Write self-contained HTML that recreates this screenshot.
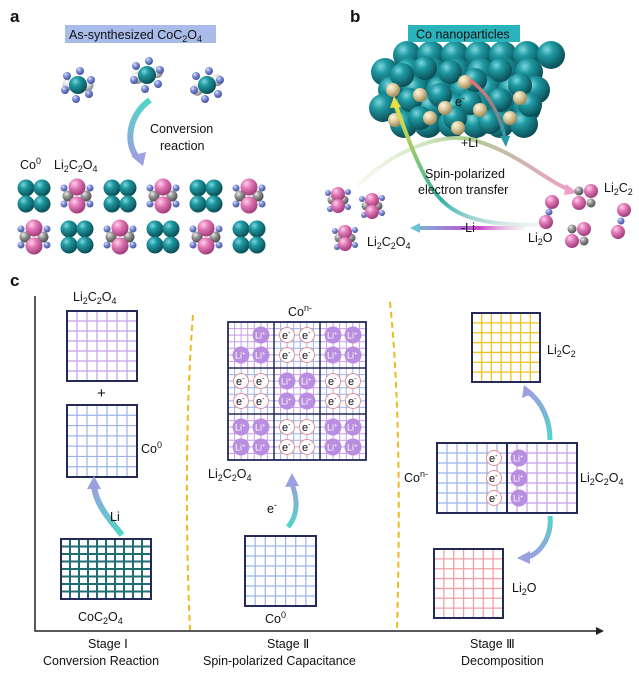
<!DOCTYPE html>
<html><head><meta charset="utf-8">
<style>
html,body{margin:0;padding:0;background:#fff;width:639px;height:679px;overflow:hidden}
svg{display:block;font-family:"Liberation Sans",Arial,sans-serif}
</style></head>
<body>
<svg id="s" width="639" height="679" viewBox="0 0 639 679" xmlns="http://www.w3.org/2000/svg">
<defs>
<radialGradient id="gT" cx="35%" cy="30%" r="70%"><stop offset="0" stop-color="#7fd6dc"/><stop offset="0.35" stop-color="#1f9aa3"/><stop offset="1" stop-color="#0b4f57"/></radialGradient>
<radialGradient id="gP" cx="35%" cy="30%" r="70%"><stop offset="0" stop-color="#ffd3ec"/><stop offset="0.4" stop-color="#e47cb9"/><stop offset="1" stop-color="#a23c7b"/></radialGradient>
<radialGradient id="gG" cx="35%" cy="30%" r="70%"><stop offset="0" stop-color="#eee"/><stop offset="0.4" stop-color="#9a9a9a"/><stop offset="1" stop-color="#505050"/></radialGradient>
<radialGradient id="gW" cx="35%" cy="30%" r="70%"><stop offset="0" stop-color="#fff"/><stop offset="0.5" stop-color="#d8d8d8"/><stop offset="1" stop-color="#8a8a8a"/></radialGradient>
<radialGradient id="gB" cx="35%" cy="30%" r="70%"><stop offset="0" stop-color="#e0e6ff"/><stop offset="0.4" stop-color="#8193dc"/><stop offset="1" stop-color="#45529a"/></radialGradient>
<radialGradient id="gY" cx="35%" cy="30%" r="70%"><stop offset="0" stop-color="#fff6dc"/><stop offset="0.5" stop-color="#d9c79a"/><stop offset="1" stop-color="#9c8a5c"/></radialGradient>
<linearGradient id="aCT" x1="0" y1="0" x2="0" y2="1"><stop offset="0" stop-color="#9aa0e0"/><stop offset="1" stop-color="#50d6c8"/></linearGradient>
<linearGradient id="aTC" x1="0" y1="0" x2="0" y2="1"><stop offset="0" stop-color="#50d6c8"/><stop offset="1" stop-color="#9aa0e0"/></linearGradient>
<linearGradient id="aPL" x1="0" y1="0" x2="1" y2="0"><stop offset="0" stop-color="#e8f2dc" stop-opacity="0.4"/><stop offset="0.5" stop-color="#a9cf8f"/><stop offset="1" stop-color="#f0a0c8"/></linearGradient>
<linearGradient id="aYL" x1="1" y1="1" x2="0" y2="0"><stop offset="0" stop-color="#dddddd" stop-opacity="0.3"/><stop offset="0.45" stop-color="#2fb0a8"/><stop offset="1" stop-color="#e8e040"/></linearGradient>
<linearGradient id="aML" gradientUnits="userSpaceOnUse" x1="525" y1="0" x2="410" y2="0"><stop offset="0" stop-color="#ddd" stop-opacity="0.3"/><stop offset="0.4" stop-color="#cc44cc"/><stop offset="1" stop-color="#6ec2d8"/></linearGradient>
<linearGradient id="aRT" x1="0" y1="0" x2="0" y2="1"><stop offset="0" stop-color="#f07070"/><stop offset="1" stop-color="#2a9aa8"/></linearGradient>
</defs>
<g id="g"></g>
<g font-size="12.5" fill="#111">
<text x="10" y="22" font-size="17" font-weight="bold">a</text>
<rect x="65" y="25" width="151" height="18" fill="#a9bbe8"/>
<text x="69" y="39" font-size="12.5">As-synthesized CoC<tspan font-size="9" dy="3">2</tspan><tspan dy="-3">O</tspan><tspan font-size="9" dy="3">4</tspan></text>
<text x="150" y="133">Conversion</text>
<text x="160" y="150">reaction</text>
<text x="20" y="169">Co<tspan font-size="9" dy="-5">0</tspan></text>
<text x="54" y="169">Li<tspan font-size="9" dy="3">2</tspan><tspan dy="-3">C</tspan><tspan font-size="9" dy="3">2</tspan><tspan dy="-3">O</tspan><tspan font-size="9" dy="3">4</tspan></text>

<text x="350" y="22" font-size="17" font-weight="bold">b</text>
<rect x="408" y="25" width="112" height="17" fill="#2bb3bc"/>
<text x="416" y="38.5">Co nanoparticles</text>
<text x="425" y="178">Spin-polarized</text>
<text x="418" y="194">electron transfer</text>
<text x="604" y="192">Li<tspan font-size="9" dy="3">2</tspan><tspan dy="-3">C</tspan><tspan font-size="9" dy="3">2</tspan></text>
<text x="528" y="242">Li<tspan font-size="9" dy="3">2</tspan><tspan dy="-3">O</tspan></text>
<text x="367" y="246">Li<tspan font-size="9" dy="3">2</tspan><tspan dy="-3">C</tspan><tspan font-size="9" dy="3">2</tspan><tspan dy="-3">O</tspan><tspan font-size="9" dy="3">4</tspan></text>

<text x="10" y="286" font-size="17" font-weight="bold">c</text>
<text x="73" y="301">Li<tspan font-size="9" dy="3">2</tspan><tspan dy="-3">C</tspan><tspan font-size="9" dy="3">2</tspan><tspan dy="-3">O</tspan><tspan font-size="9" dy="3">4</tspan></text>
<text x="97" y="398" font-size="15">+</text>
<text x="141" y="453">Co<tspan font-size="9" dy="-5">0</tspan></text>
<text x="110" y="521">Li</text>
<text x="78" y="621">CoC<tspan font-size="9" dy="3">2</tspan><tspan dy="-3">O</tspan><tspan font-size="9" dy="3">4</tspan></text>
<text x="88" y="648">Stage Ⅰ</text>
<text x="43" y="665">Conversion Reaction</text>

<text x="288" y="316">Co<tspan font-size="9" dy="-5">n-</tspan></text>
<text x="208" y="478">Li<tspan font-size="9" dy="3">2</tspan><tspan dy="-3">C</tspan><tspan font-size="9" dy="3">2</tspan><tspan dy="-3">O</tspan><tspan font-size="9" dy="3">4</tspan></text>
<text x="267" y="513">e<tspan font-size="9" dy="-5">-</tspan></text>
<text x="265" y="623">Co<tspan font-size="9" dy="-5">0</tspan></text>
<text x="267" y="648">Stage Ⅱ</text>
<text x="203" y="665">Spin-polarized Capacitance</text>

<text x="547" y="354">Li<tspan font-size="9" dy="3">2</tspan><tspan dy="-3">C</tspan><tspan font-size="9" dy="3">2</tspan></text>
<text x="404" y="482">Co<tspan font-size="9" dy="-5">n-</tspan></text>
<text x="580" y="482">Li<tspan font-size="9" dy="3">2</tspan><tspan dy="-3">C</tspan><tspan font-size="9" dy="3">2</tspan><tspan dy="-3">O</tspan><tspan font-size="9" dy="3">4</tspan></text>
<text x="512" y="592">Li<tspan font-size="9" dy="3">2</tspan><tspan dy="-3">O</tspan></text>
<text x="470" y="648">Stage Ⅲ</text>
<text x="461" y="665">Decomposition</text>
</g>
</svg>
<script>
var o='';
function sp(x,y,r,g){o+='<circle cx="'+x+'" cy="'+y+'" r="'+r+'" fill="url(#'+g+')"/>';}
function coc(x,y,rot){var a=rot*Math.PI/180;
 var pts=[[-11,-9],[11,9],[-13,5],[13,-5],[2,-14],[-2,14]];
 sp(x-10*Math.cos(a),y-10*Math.sin(a)+3,6,'gW');sp(x+10*Math.cos(a),y+10*Math.sin(a)-3,6,'gW');
 pts.forEach(function(p){sp(x+p[0],y+p[1],4,'gB');});
 sp(x,y,9,'gT');}
coc(78,85,20);coc(147,75,0);coc(207,85,-10);
function co4(x,y){sp(x-8,y-8,8.5,'gT');sp(x+8,y-8,8.5,'gT');sp(x-8,y+8,8.5,'gT');sp(x+8,y+8,8.5,'gT');}
function li4(x,y){[[-13,-8],[13,-8],[-13,8],[13,8]].forEach(function(p){sp(x+p[0],y+p[1],3.5,'gB')});
 sp(x-9,y,5.5,'gG');sp(x+9,y,5.5,'gG');sp(x,y-9,8.5,'gP');sp(x,y+9,8.5,'gP');}
var cx=[34,77,120,163,206,249];
for(var i=0;i<6;i++){ if(i%2==0)co4(cx[i],196);else li4(cx[i],196);
 if(i%2==0)li4(cx[i],237);else co4(cx[i],237);}
o+='<path d="M150,100 C128,115 125,145 138,158" fill="none" stroke="url(#aTC)" stroke-width="6"/>';
o+='<polygon points="131,156 146,152 143,166" fill="#9aa0e0"/>';
var rows=[[55,395,7],[72,385,7],[90,380,7],[108,383,7],[124,392,6]];
rows.forEach(function(r,ri){for(var k=0;k<r[2];k++){sp(r[1]+k*24+(ri%2?0:12),r[0],14,'gT');}});
[[402,75,12],[425,68,12],[450,72,12],[475,80,12],[500,70,12],[520,85,12],[410,100,12],[440,95,12],[470,103,12],[500,100,12],[530,105,12],[420,118,12],[455,118,12],[490,122,12]].forEach(function(p){sp(p[0],p[1],p[2],'gT');});
[[393,90],[420,95],[465,82],[445,108],[480,110],[510,118],[395,120],[430,118],[520,98],[458,128]].forEach(function(p){sp(p[0],p[1],7,'gY');});
o+='<path d="M358,185 C400,145 450,130 480,142 C520,155 545,180 570,190" fill="none" stroke="url(#aPL)" stroke-width="4"/>';
o+='<polygon points="566,184 578,193 564,195" fill="#f0a0c8"/>';
o+='<path d="M540,225 C480,225 450,218 430,185 C415,160 405,130 396,106" fill="none" stroke="url(#aYL)" stroke-width="4"/>';
o+='<polygon points="390,108 394,96 401,107" fill="#e8e040"/>';
o+='<path d="M470,80 C490,95 500,115 505,138" fill="none" stroke="url(#aRT)" stroke-width="3.5"/>';
o+='<polygon points="500,136 510,136 506,147" fill="#2a9aa8"/>';
o+='<path d="M525,228 L418,228" stroke="url(#aML)" stroke-width="4"/>';
o+='<polygon points="420,223 410,228 420,233" fill="#6ec2d8"/>';
o+='<text x="461" y="147" font-size="12.5" fill="#111" font-family="Liberation Sans">+Li</text>';
o+='<text x="461" y="232" font-size="12.5" fill="#111" font-family="Liberation Sans">-Li</text>';
o+='<text x="455" y="106" font-size="12.5" fill="#111" font-family="Liberation Sans">e<tspan font-size="9" dy="-5">-</tspan></text>';
function lic(x,y,s){[[-10,-7],[10,7],[-8,9],[10,-8]].forEach(function(p){sp(x+p[0]*s,y+p[1]*s,3*s,'gB')});
 sp(x-6*s,y,4.5*s,'gG');sp(x+6*s,y,4.5*s,'gG');sp(x,y-6*s,7*s,'gP');sp(x,y+6*s,7*s,'gP');}
lic(338,200,1);lic(372,206,1);lic(345,238,1);
function lic2(x,y){sp(x-6,y-6,4.5,'gG');sp(x+6,y+6,4.5,'gG');sp(x-6,y+6,7,'gP');sp(x+6,y-6,7,'gP');}
lic2(585,197);lic2(578,235);
function lio(x,y,dx,dy){sp(x,y,7,'gP');sp(x+dx/2,y+dy/2,3.5,'gB');sp(x+dx,y+dy,7,'gP');}
lio(552,202,-6,20);lio(624,210,-6,22);
o+='<path d="M35,296 L35,631 L596,631" fill="none" stroke="#222" stroke-width="1.5"/>';
o+='<polygon points="596,627 604,631 596,635" fill="#222"/>';
o+='<path d="M193,315 C186,400 185,520 190,630" fill="none" stroke="#f0b820" stroke-width="2" stroke-dasharray="6,4"/>';
o+='<path d="M390,302 C400,400 400,520 397,630" fill="none" stroke="#f0b820" stroke-width="2" stroke-dasharray="6,4"/>';
function grid(x,y,w,h,nc,nr,col,lw,bw){o+='<rect x="'+x+'" y="'+y+'" width="'+w+'" height="'+h+'" fill="#fff"/>';
 for(var i=1;i<nc;i++){var xx=x+w*i/nc;o+='<line x1="'+xx+'" y1="'+y+'" x2="'+xx+'" y2="'+(y+h)+'" stroke="'+col+'" stroke-width="'+lw+'"/>';}
 for(var j=1;j<nr;j++){var yy=y+h*j/nr;o+='<line x1="'+x+'" y1="'+yy+'" x2="'+(x+w)+'" y2="'+yy+'" stroke="'+col+'" stroke-width="'+lw+'"/>';}
 if(bw)o+='<rect x="'+x+'" y="'+y+'" width="'+w+'" height="'+h+'" fill="none" stroke="#232a5a" stroke-width="'+bw+'"/>';}
var PU='#c79ee8',BL='#9cb2ec',TE='#1f6d70',YE='#f0c020',PK='#f0a0a8';
grid(67,311,70,70,7,7,PU,1.2,2);
grid(67,405,70,72,7,7,BL,1.2,2);
grid(61,539,90,60,10,8,TE,2,2);
o+='<path d="M122,535 C110,520 96,505 94,486" fill="none" stroke="url(#aCT)" stroke-width="6"/>';
o+='<polygon points="87,489 94,476 101,489" fill="#9aa0e0"/>';
var pat=['L','E','L','E','L','E','L','E','L'];
for(var r=0;r<3;r++)for(var c=0;c<3;c++){var t=pat[r*3+c];grid(228+c*46,322+r*46,46,46,7,7,t=='L'?PU:BL,1,0);}
for(var r=0;r<3;r++)for(var c=0;c<3;c++){var t=pat[r*3+c];var X=228+c*46,Y=322+r*46;
 [[13,13],[33,13],[13,33],[33,33]].forEach(function(p,k){if(r==0&&c==0&&k==0)return;
  if(t=='L'){o+='<circle cx="'+(X+p[0])+'" cy="'+(Y+p[1])+'" r="8.5" fill="#b98ee0"/><text x="'+(X+p[0]-6)+'" y="'+(Y+p[1]+3.5)+'" font-size="9" fill="#fff" font-family="Liberation Sans">Li<tspan font-size="6" dy="-3">+</tspan></text>';}
  else{o+='<circle cx="'+(X+p[0])+'" cy="'+(Y+p[1])+'" r="7.5" fill="#fff" stroke="#e89090" stroke-width="1"/><text x="'+(X+p[0]-5)+'" y="'+(Y+p[1]+4)+'" font-size="11" fill="#111" font-family="Liberation Sans">e<tspan font-size="7" dy="-4">-</tspan></text>';}});}
o+='<rect x="228" y="322" width="138" height="138" fill="none" stroke="#232a5a" stroke-width="1.8"/>';
o+='<path d="M274,322 V460 M320,322 V460 M228,368 H366 M228,414 H366" stroke="#232a5a" stroke-width="1.5"/>';
grid(245,536,71,70,7,7,BL,1.2,2);
o+='<path d="M288,527 C298,515 298,500 292,484" fill="none" stroke="url(#aCT)" stroke-width="5"/>';
o+='<polygon points="285,487 292,473 299,486" fill="#9aa0e0"/>';
grid(472,313,68,69,7,7,YE,1.3,2);
grid(437,443,70,70,7,7,BL,1.2,0);grid(507,443,70,70,7,7,PU,1.2,0);
o+='<rect x="437" y="443" width="140" height="70" fill="none" stroke="#232a5a" stroke-width="2"/><line x1="507" y1="443" x2="507" y2="513" stroke="#232a5a" stroke-width="2"/>';
[458,478,498].forEach(function(y){o+='<circle cx="494" cy="'+y+'" r="7.5" fill="#fff" stroke="#e89090"/><text x="489" y="'+(y+4)+'" font-size="11" fill="#111" font-family="Liberation Sans">e<tspan font-size="7" dy="-4">-</tspan></text>';
 o+='<circle cx="519" cy="'+y+'" r="8.5" fill="#b98ee0"/><text x="513" y="'+(y+3.5)+'" font-size="9" fill="#fff" font-family="Liberation Sans">Li<tspan font-size="6" dy="-3">+</tspan></text>';});
o+='<path d="M550,440 C550,418 540,400 528,392" fill="none" stroke="url(#aCT)" stroke-width="5"/>';
o+='<polygon points="522,398 524,385 534,393" fill="#9aa0e0"/>';
o+='<path d="M550,516 C552,535 542,552 528,557" fill="none" stroke="url(#aTC)" stroke-width="5"/>';
o+='<polygon points="530,551 517,558 530,564" fill="#9aa0e0"/>';
grid(434,549,69,69,7,7,PK,1.3,2);
document.getElementById('g').innerHTML=o;
</script>
</body></html>
